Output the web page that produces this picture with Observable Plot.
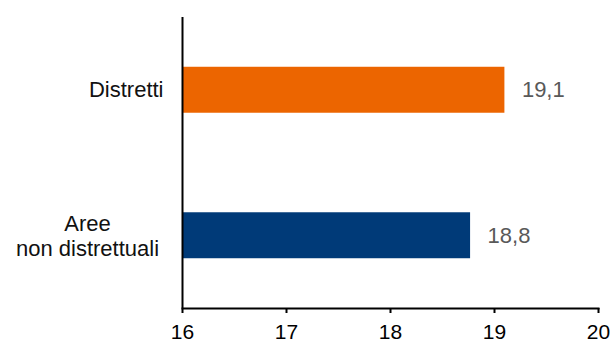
<!DOCTYPE html>
<html>
<head>
<meta charset="utf-8">
<script src="https://cdn.jsdelivr.net/npm/d3@7"></script>
<script src="https://cdn.jsdelivr.net/npm/@observablehq/plot@0.6"></script>
<style>
  html, body { margin: 0; padding: 0; background: #fff; overflow: hidden; }
  #chart svg { display: block; }
</style>
</head>
<body>
<div id="chart"></div>
<script>
const categories = ["Distretti", "Aree\nnon distrettuali"];
const values = [19.1, 18.77];
const valueLabels = ["19,1", "18,8"];
const barColors = ["#EC6500", "#003A78"];
const xTicks = [16, 17, 18, 19, 20];

const data = categories.map((c, i) => ({category: c, value: values[i], label: valueLabels[i], color: barColors[i]}));
const singleLine = data.filter(d => !d.category.includes("\n"));
const multiLine = data.filter(d => d.category.includes("\n"));

const font = "'Liberation Sans', Arial, sans-serif";

const chart = Plot.plot({
  width: 611,
  height: 345,
  marginLeft: 182,
  marginRight: 13,
  marginTop: 17,
  marginBottom: 37,
  style: {fontFamily: font, fontSize: "21px", background: "#fff", color: "#000"},
  x: {domain: [xTicks[0], xTicks[xTicks.length - 1]], ticks: xTicks},
  y: {domain: categories, paddingInner: 0.684, paddingOuter: 0.342, round: false, axis: null},
  marks: [
    Plot.barX(data, {x1: xTicks[0], x2: "value", y: "category", fill: "color"}),
    Plot.ruleX([xTicks[0]], {stroke: "#000", strokeWidth: 2}),
    Plot.frame({anchor: "bottom", stroke: "#000", strokeWidth: 2}),
    Plot.axisX({ticks: xTicks, tickSize: 5, tickPadding: 11, stroke: "#000", strokeWidth: 2, fontSize: 21, fill: "#000", label: null, tickFormat: d => String(d)}),
    Plot.text(data, {x: "value", y: "category", text: "label", dx: 17, textAnchor: "start", fill: "#595959", fontSize: 22}),
    Plot.text(singleLine, {y: "category", text: "category", frameAnchor: "left", textAnchor: "end", dx: -19, fill: "#111", fontSize: 22}),
    Plot.text(multiLine, {y: "category", text: "category", frameAnchor: "left", textAnchor: "middle", dx: -95, lineHeight: 1.1, fill: "#111", fontSize: 22})
  ]
});
document.getElementById("chart").appendChild(chart);
</script>
</body>
</html>
